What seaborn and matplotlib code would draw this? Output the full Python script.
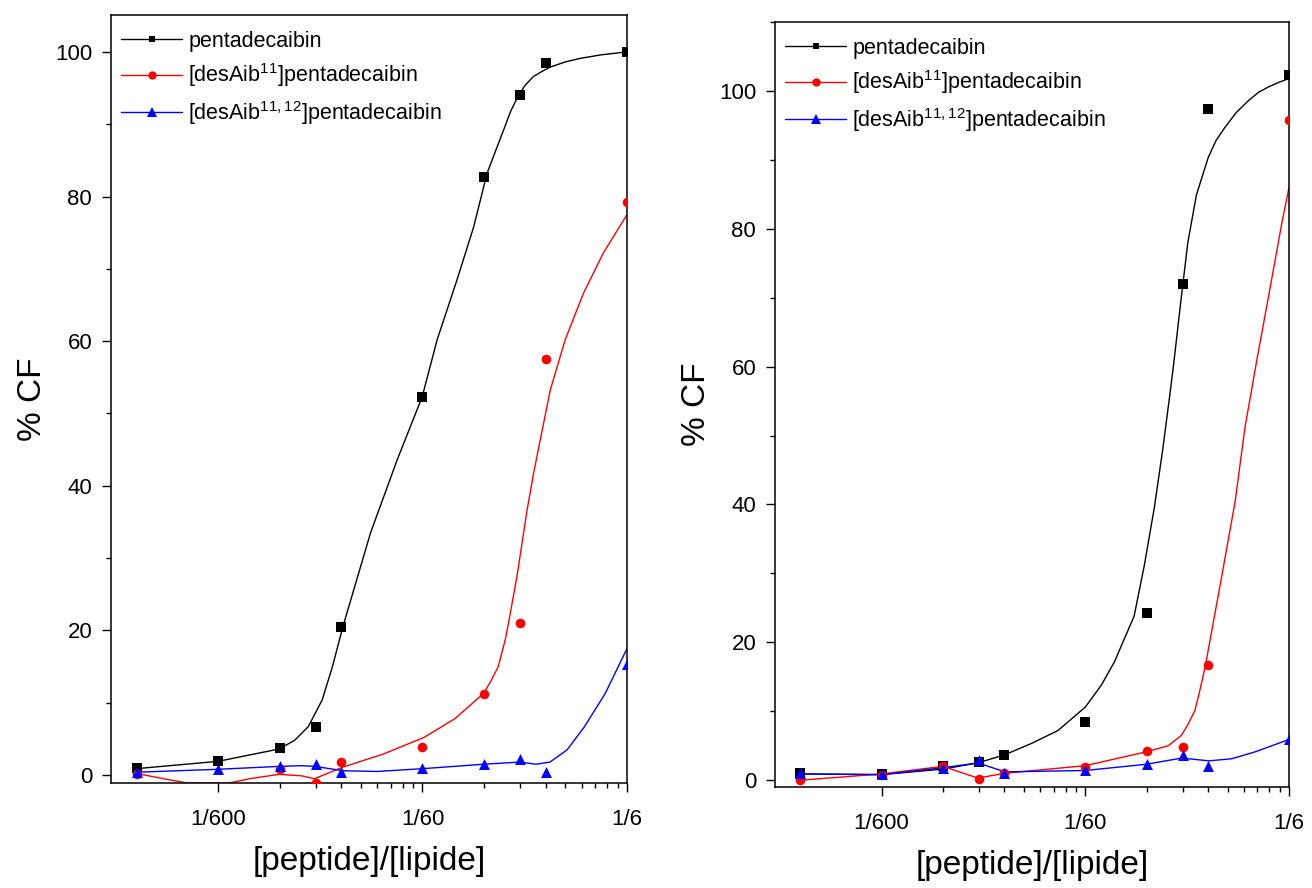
import matplotlib
matplotlib.use('Agg')
import matplotlib.pyplot as plt
import seaborn as sns
from matplotlib.lines import Line2D
from matplotlib.ticker import FixedLocator, NullFormatter, MultipleLocator

# x values: peptide/lipid ratio
ratios = [1/1500, 1/600, 1/300, 1/200, 1/150, 1/60, 1/30, 1/20, 1/15, 1/6]
tick_pos = [1/600, 1/60, 1/6]
tick_labels = ['1/600', '1/60', '1/6']

names = ['pentadecaibin', r'[desAib$^{11}$]pentadecaibin', r'[desAib$^{11,12}$]pentadecaibin']
colors = ['black', '#ff0000', '#0000ff']
markers = ['s', 'o', '^']

# left panel, measured points (% CF)
left_pent = [1.0, 2.0, 3.7, 6.7, 20.5, 52.3, 82.7, 94.0, 98.5, 100.0]
left_des11 = [0.2, -2.0, 0.8, -1.1, 1.8, 3.9, 11.2, 21.0, 57.5, 79.3]
left_des1112 = [0.4, 0.9, 1.3, 1.5, 0.4, 1.0, 1.5, 2.2, 0.4, 15.4]

# left panel, fitted curves
lc_pent_x = [6.73e-4, 1.667e-3, 3.31e-3, 3.95e-3, 4.61e-3, 5.39e-3, 6.05e-3, 6.80e-3, 9.29e-3,
             1.254e-2, 1.661e-2, 1.966e-2, 2.46e-2, 2.966e-2, 3.447e-2, 4.154e-2, 4.5e-2,
             4.914e-2, 5.3e-2, 5.816e-2, 6.4e-2, 7.02e-2, 8.3e-2, 9.83e-2, 0.125, 1/6]
lc_pent_y = [0.9, 1.9, 3.6, 4.8, 6.7, 10.4, 15.0, 20.5, 33.5, 43.6, 52.3, 60.2, 68.5, 75.8,
             83.2, 89.2, 91.8, 94.0, 95.4, 96.6, 97.3, 97.9, 98.6, 99.1, 99.6, 100.0]
lc_des11_x = [6.73e-4, 9.02e-4, 1.18e-3, 1.886e-3, 2.38e-3, 3.31e-3, 4.27e-3, 4.94e-3, 6.80e-3,
              1.07e-2, 1.694e-2, 2.4e-2, 3.32e-2, 3.6e-2, 3.91e-2, 4.23e-2, 4.39e-2, 4.83e-2,
              5.40e-2, 5.82e-2, 6.27e-2, 7.02e-2, 8.31e-2, 0.102, 0.1277, 1/6]
lc_des11_y = [0.2, -0.5, -1.1, -1.1, -0.5, 0.1, -0.1, -0.5, 1.1, 2.9, 5.2, 7.8, 11.3, 13.0,
              15.0, 18.7, 21.0, 27.5, 36.5, 41.7, 46.3, 53.2, 60.2, 66.6, 72.2, 77.5]
lc_des1112_x = [6.73e-4, 1.667e-3, 3.31e-3, 4.27e-3, 4.98e-3, 6.80e-3, 1.003e-2, 1.694e-2,
                3.32e-2, 4.99e-2, 5.99e-2, 7.00e-2, 8.50e-2, 0.1033, 0.1305, 1/6]
lc_des1112_y = [0.4, 0.8, 1.2, 1.3, 1.2, 0.6, 0.5, 0.9, 1.5, 1.8, 1.5, 1.8, 3.5, 6.7, 11.3, 17.5]

# right panel, measured points (% CF)
right_pent = [1.0, 0.9, 2.0, 2.6, 3.7, 8.4, 24.3, 72.0, 97.4, 102.3]
right_des11 = [0.0, 0.8, 2.1, 0.2, 1.1, 1.9, 4.2, 4.8, 16.7, 95.8]
right_des1112 = [1.1, 0.9, 1.8, 2.9, 1.0, 1.5, 2.4, 3.6, 2.1, 5.9]

# right panel, fitted curves
rc_pent_x = [6.73e-4, 1.667e-3, 3.33e-3, 4.95e-3, 6.73e-3, 9.03e-3, 1.224e-2, 1.667e-2, 2.0e-2,
             2.32e-2, 2.894e-2, 3.24e-2, 3.635e-2, 4.0e-2, 4.315e-2, 4.53e-2, 4.93e-2, 5.31e-2,
             5.85e-2, 6.68e-2, 7.3e-2, 8.07e-2, 9.2e-2, 0.1054, 0.118, 0.1324, 0.15, 1/6]
rc_pent_y = [0.9, 0.8, 1.6, 2.5, 3.7, 5.3, 7.2, 10.6, 13.8, 17.2, 23.8, 31.0, 39.5, 48.0, 55.5,
             60.5, 70.0, 78.0, 84.9, 90.3, 92.8, 94.7, 96.9, 98.6, 99.8, 100.6, 101.3, 101.8]
rc_des11_x = [6.73e-4, 1.667e-3, 3.33e-3, 4.95e-3, 6.73e-3, 1.667e-2, 3.31e-2, 4.26e-2, 4.94e-2,
              5.3e-2, 5.75e-2, 6.0e-2, 6.3e-2, 6.53e-2, 7.75e-2, 9.06e-2, 0.1013, 0.1159, 0.1324,
              0.154, 1/6]
rc_des11_y = [0.0, 0.9, 2.0, 0.3, 1.0, 2.1, 4.1, 5.0, 6.5, 8.0, 10.1, 12.3, 15.0, 17.2, 29.2,
              40.4, 51.2, 61.0, 70.3, 81.0, 86.0]
rc_des1112_x = [6.73e-4, 1.667e-3, 3.33e-3, 4.95e-3, 6.73e-3, 1.667e-2, 3.31e-2, 4.95e-2,
                6.76e-2, 8.7e-2, 0.1135, 1/6]
rc_des1112_y = [0.9, 0.8, 1.8, 2.5, 1.2, 1.4, 2.3, 3.2, 2.8, 3.1, 4.1, 5.9]

sns.set_style('ticks')
plt.rcParams['font.family'] = ['Liberation Sans', 'DejaVu Sans']
plt.rcParams['mathtext.default'] = 'regular'
for key in ['text.color', 'axes.labelcolor', 'xtick.color', 'ytick.color', 'axes.edgecolor']:
    plt.rcParams[key] = 'black'

fig = plt.figure(figsize=(13.12, 8.88), dpi=100)
ax1 = fig.add_axes([0.0846, 0.1182, 0.3933, 0.8649])
ax2 = fig.add_axes([0.5907, 0.1137, 0.3918, 0.8615])

panels = [
    (ax1, [left_pent, left_des11, left_des1112],
     [(lc_pent_x, lc_pent_y), (lc_des11_x, lc_des11_y), (lc_des1112_x, lc_des1112_y)],
     (-1.1, 105.1)),
    (ax2, [right_pent, right_des11, right_des1112],
     [(rc_pent_x, rc_pent_y), (rc_des11_x, rc_des11_y), (rc_des1112_x, rc_des1112_y)],
     (-1.0, 110.0)),
]

sizes = [42, 48, 62]

for ax, points, curves, ylim in panels:
    ax.set_xscale('log')
    for i in range(3):
        cx, cy = curves[i]
        sns.lineplot(x=cx, y=cy, estimator=None, sort=False, color=colors[i], lw=1.0, ax=ax)
        sns.scatterplot(x=ratios, y=points[i], marker=markers[i], color=colors[i],
                        s=sizes[i], linewidth=0, ax=ax, zorder=3)
    ax.set_xlim(5e-4, 1/6)
    ax.set_ylim(*ylim)
    ax.xaxis.set_major_locator(FixedLocator(tick_pos))
    ax.set_xticklabels(tick_labels)
    ax.xaxis.set_minor_locator(FixedLocator([k / 600 for k in range(2, 10)] + [k / 60 for k in range(2, 10)]))
    ax.xaxis.set_minor_formatter(NullFormatter())
    ax.yaxis.set_major_locator(MultipleLocator(20))
    ax.yaxis.set_minor_locator(MultipleLocator(10))
    ax.tick_params(axis='both', which='major', direction='out', length=6.5, width=1.0,
                   labelsize=16, top=False, right=False)
    ax.tick_params(axis='both', which='minor', direction='out', length=3.5, width=1.0,
                   top=False, right=False)
    ax.tick_params(axis='x', which='major', pad=12)
    ax.tick_params(axis='y', which='major', pad=7)
    for sp in ax.spines.values():
        sp.set_visible(True)
        sp.set_linewidth(1.1)
    ax.set_xlabel('[peptide]/[lipide]', fontsize=24, labelpad=12)
    ax.set_ylabel('% CF', fontsize=24, labelpad=5)

    handles = [Line2D([], [], color=colors[i], marker=markers[i], lw=1.0,
                      markersize=[5, 6, 6.5][i], markeredgewidth=0) for i in range(3)]
    ax.legend(handles, names, loc='upper left', bbox_to_anchor=(0.012, 0.985), frameon=False,
              fontsize=15.5, handlelength=2.8, handletextpad=0.3, labelspacing=0.45,
              borderaxespad=0, borderpad=0.2)

fig.savefig('out.png', dpi=100)
